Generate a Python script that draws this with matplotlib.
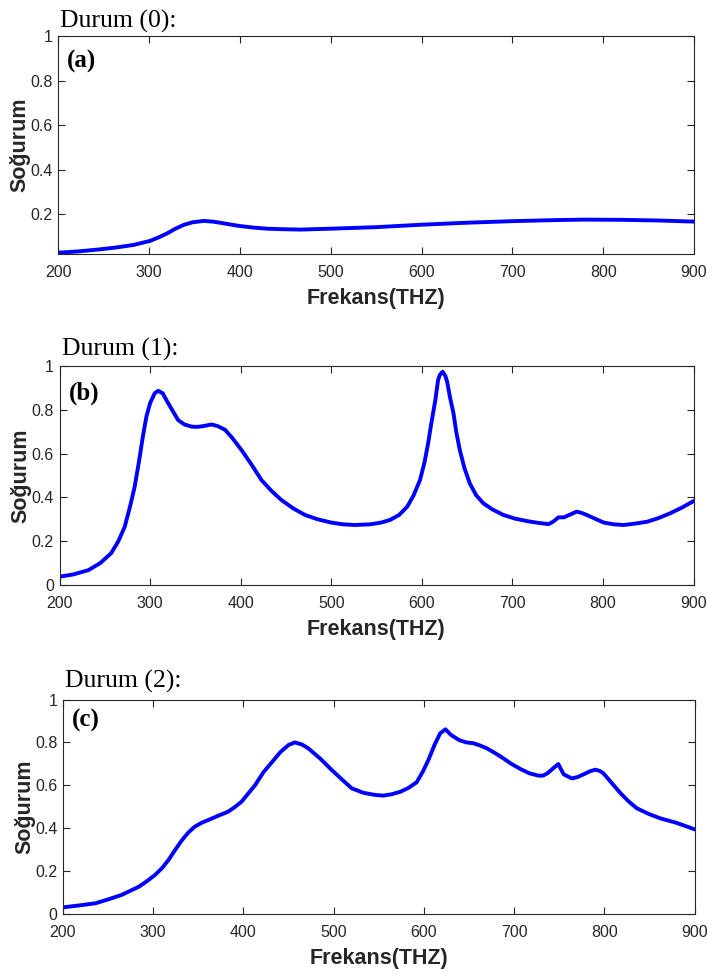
import matplotlib
matplotlib.use('Agg')
import matplotlib.pyplot as plt
from matplotlib.ticker import FuncFormatter

# veri (okunan değerler)
freq_a = [200, 220, 246, 265, 283, 290, 301, 310, 320, 328, 338, 348, 360, 370,
          378, 388, 400, 415, 430, 445, 466, 500, 550, 600, 650, 700, 750, 780,
          820, 860, 900]
abs_a = [0.026, 0.031, 0.041, 0.05, 0.061, 0.068, 0.079, 0.094, 0.113, 0.132,
         0.151, 0.163, 0.169, 0.166, 0.161, 0.154, 0.146, 0.139, 0.134, 0.132,
         0.130, 0.134, 0.141, 0.152, 0.161, 0.168, 0.173, 0.175, 0.174, 0.171, 0.166]

freq_b = [200, 215, 232, 245, 257, 265, 272, 278, 283, 288, 292, 296, 300, 305,
          309, 314, 320, 331, 338, 346, 352, 358, 368, 375, 383, 391, 401, 412,
          423, 434, 445, 458, 471, 485, 500, 513, 526, 543, 555, 565, 575, 584,
          591, 598, 603, 607, 611, 615, 618, 620, 623, 626, 628, 631, 635, 638,
          642, 647, 653, 660, 668, 678, 690, 703, 716, 728, 740, 745, 751, 757,
          764, 771, 776, 782, 790, 801, 812, 823, 835, 849, 861, 874, 887, 900]
abs_b = [0.038, 0.048, 0.068, 0.1, 0.145, 0.2, 0.266, 0.36, 0.449, 0.57, 0.677,
         0.77, 0.83, 0.875, 0.887, 0.875, 0.83, 0.753, 0.733, 0.723, 0.722, 0.725,
         0.733, 0.725, 0.708, 0.67, 0.616, 0.55, 0.479, 0.43, 0.388, 0.35, 0.32,
         0.3, 0.285, 0.277, 0.274, 0.277, 0.285, 0.297, 0.32, 0.358, 0.41, 0.479,
         0.56, 0.647, 0.75, 0.845, 0.936, 0.96, 0.974, 0.955, 0.928, 0.86, 0.784,
         0.70, 0.616, 0.535, 0.464, 0.41, 0.373, 0.345, 0.32, 0.303, 0.292, 0.284,
         0.278, 0.289, 0.309, 0.309, 0.322, 0.335, 0.33, 0.32, 0.305, 0.285, 0.277,
         0.274, 0.28, 0.289, 0.305, 0.327, 0.353, 0.383]

freq_c = [200, 218, 236, 250, 265, 284, 293, 302, 310, 317, 324, 332, 339, 346,
          354, 361, 372, 383, 390, 398, 405, 413, 422, 432, 441, 450, 457, 465,
          472, 485, 498, 509, 520, 533, 546, 555, 564, 574, 583, 592, 599, 605,
          612, 618, 624, 630, 639, 647, 655, 662, 670, 679, 688, 697, 707, 717,
          727, 732, 737, 745, 749, 755, 764, 770, 777, 784, 790, 795, 799, 808,
          818, 827, 836, 849, 862, 880, 900]
abs_c = [0.031, 0.04, 0.05, 0.068, 0.089, 0.127, 0.153, 0.182, 0.215, 0.252,
         0.297, 0.345, 0.38, 0.407, 0.426, 0.438, 0.458, 0.477, 0.497, 0.524,
         0.56, 0.601, 0.66, 0.71, 0.755, 0.788, 0.8, 0.79, 0.772, 0.725, 0.671,
         0.628, 0.586, 0.565, 0.555, 0.552, 0.558, 0.57, 0.588, 0.614, 0.665,
         0.718, 0.79, 0.842, 0.861, 0.835, 0.811, 0.80, 0.796, 0.786, 0.772, 0.75,
         0.726, 0.70, 0.676, 0.656, 0.645, 0.645, 0.656, 0.685, 0.699, 0.651,
         0.632, 0.638, 0.651, 0.665, 0.673, 0.667, 0.656, 0.612, 0.563, 0.525,
         0.493, 0.467, 0.446, 0.425, 0.395]

durum_labels = ['Durum (0):', 'Durum (1):', 'Durum (2):']
panel_labels = ['(a)', '(b)', '(c)']
x_ticks = [200, 300, 400, 500, 600, 700, 800, 900]

W, H = 707, 974
fig = plt.figure(figsize=(W / 100, H / 100), dpi=100)

# eksen konumları (piksel): sol, sağ, üst, alt
boxes = [(58.3, 694, 36.5, 254), (59.5, 693.5, 366, 585), (63, 694.5, 699.5, 914)]
ylims = [(0.02, 1), (0, 1), (0, 1)]
yticks = [[0.2, 0.4, 0.6, 0.8, 1], [0, 0.2, 0.4, 0.6, 0.8, 1], [0, 0.2, 0.4, 0.6, 0.8, 1]]
durum_pos = [(60, 28), (61.5, 356), (65, 688)]
panel_pos = [(67, 68), (69, 400), (71.5, 727)]
data = [(freq_a, abs_a), (freq_b, abs_b), (freq_c, abs_c)]

dark = '#262626'
for i in range(3):
    l, r, t, b = boxes[i]
    ax = fig.add_axes([l / W, 1 - b / H, (r - l) / W, (b - t) / H])
    x, y = data[i]
    ax.plot(x, y, color='#0000ff', lw=2.8, solid_joinstyle='round')
    ax.set_xlim(200, 900)
    ax.set_ylim(*ylims[i])
    ax.set_xticks(x_ticks)
    ax.set_yticks(yticks[i])
    ax.yaxis.set_major_formatter(FuncFormatter(lambda v, p: '%g' % v))
    ax.tick_params(direction='in', top=True, right=True, length=5, width=0.8,
                   color=dark, labelcolor=dark, labelsize=11.5)
    ax.tick_params(axis='x', pad=8)
    ax.tick_params(axis='y', pad=4)
    for lab in ax.get_xticklabels() + ax.get_yticklabels():
        lab.set_fontfamily('Liberation Sans')
    for s in ax.spines.values():
        s.set_color(dark)
        s.set_linewidth(0.8)
    ax.set_xlabel('Frekans(THZ)', fontsize=15.5, fontweight='bold',
                  family='Liberation Sans', color=dark, labelpad=6)
    ax.set_ylabel('Soğurum', fontsize=15.5, fontweight='bold',
                  family='Liberation Sans', color=dark, labelpad=0)

    fig.text(durum_pos[i][0] / W, 1 - durum_pos[i][1] / H, durum_labels[i],
             family='Liberation Serif', fontsize=18.5, va='baseline', ha='left')
    fig.text(panel_pos[i][0] / W, 1 - panel_pos[i][1] / H, panel_labels[i],
             family='Liberation Serif', fontweight='bold', fontsize=18,
             va='baseline', ha='left')

fig.savefig('out.png', dpi=100)
